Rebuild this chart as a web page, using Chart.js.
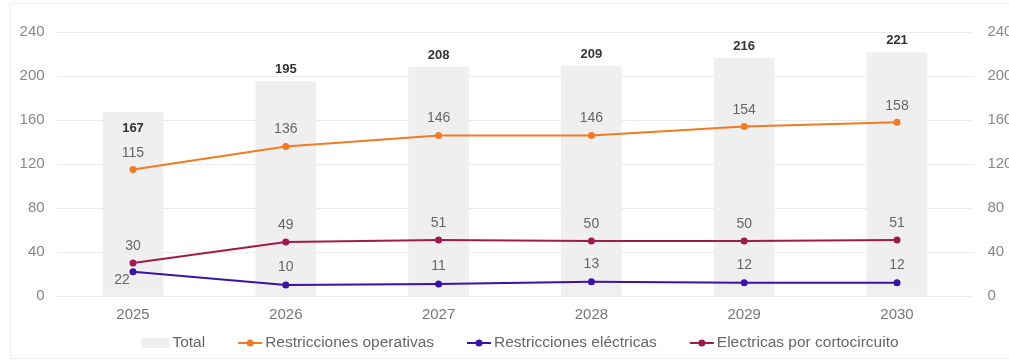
<!DOCTYPE html>
<html>
<head>
<meta charset="utf-8">
<script src="https://cdn.jsdelivr.net/npm/chart.js@4/dist/chart.umd.min.js"></script>
<style>
  html, body { margin: 0; padding: 0; background: #fff; overflow: hidden; width: 1009px; height: 362px; }
  #frame { position: absolute; left: 10px; top: 3px; width: 1040px; height: 354px; border: 1px solid #eeeeee; }
  #c { position: absolute; left: 0; top: 0; }
</style>
</head>
<body>
<div id="frame"></div>
<canvas id="c" width="1022" height="362"></canvas>
<script>
const categories = ['2025', '2026', '2027', '2028', '2029', '2030'];
const total = [167, 195, 208, 209, 216, 221];
const restriccionesOperativas = [115, 136, 146, 146, 154, 158];
const restriccionesElectricas = [22, 10, 11, 13, 12, 12];
const electricasCortocircuito = [30, 49, 51, 50, 50, 51];
const yTicks = [0, 40, 80, 120, 160, 200, 240];

const COL_TOTAL = '#efefef';
const COL_OPER = '#f27a22';
const COL_ELEC = '#3c12a6';
const COL_CORTO = '#a11a4c';
const FONT = '"Liberation Sans", Arial, sans-serif';

// label offsets (style only): [dx, dy] per point
const labelOffsets = {
  0: [[0, 16], [0, -12], [0, -12], [0, -12], [0, -12], [0, -12]],
  1: [[0, -16.5], [0, -17], [0, -17], [0, -17], [0, -16], [0, -16]],
  2: [[-11, 8], [0, -18], [0, -18], [0, -18], [0, -18], [0, -18]],
  3: [[0, -17], [0, -17], [0, -17], [0, -17], [0, -17], [0, -17]]
};

const valueLabels = {
  id: 'valueLabels',
  afterDatasetsDraw(chart) {
    const ctx = chart.ctx;
    ctx.save();
    ctx.textAlign = 'center';
    ctx.textBaseline = 'middle';
    chart.data.datasets.forEach((ds, di) => {
      const meta = chart.getDatasetMeta(di);
      meta.data.forEach((el, i) => {
        const off = labelOffsets[di][i];
        if (di === 0) {
          ctx.font = 'bold 13px ' + FONT;
          ctx.fillStyle = '#333333';
        } else {
          ctx.font = '14px ' + FONT;
          ctx.fillStyle = '#666666';
        }
        ctx.fillText(String(ds.data[i]), el.x + off[0], el.y + off[1]);
      });
    });
    ctx.restore();
  }
};

const customLegend = {
  id: 'customLegend',
  afterDraw(chart) {
    const ctx = chart.ctx;
    const ca = chart.chartArea;
    const y = 343;
    ctx.save();
    ctx.font = '15.5px ' + FONT;
    ctx.textBaseline = 'middle';
    ctx.textAlign = 'left';
    const items = chart.data.datasets.map((ds, i) => {
      const mw = i === 0 ? 28 : 24;
      return { ds, i, mw, tw: ctx.measureText(ds.label).width };
    });
    const gapText = 3, gapItem = 33;
    let totalW = 0;
    items.forEach((it, k) => { totalW += it.mw + gapText + it.tw + (k < items.length - 1 ? gapItem : 0); });
    let x = (ca.left + ca.right) / 2 + 5 - totalW / 2;
    items.forEach(it => {
      if (it.i === 0) {
        ctx.fillStyle = COL_TOTAL;
        ctx.fillRect(x, y - 5, 28, 10);
      } else {
        const c = it.ds.borderColor;
        ctx.strokeStyle = c; ctx.lineWidth = 2;
        ctx.beginPath(); ctx.moveTo(x, y); ctx.lineTo(x + 24, y); ctx.stroke();
        ctx.fillStyle = c;
        ctx.beginPath(); ctx.arc(x + 12, y, 3.5, 0, Math.PI * 2); ctx.fill();
      }
      x += it.mw + gapText;
      ctx.fillStyle = '#666666';
      ctx.fillText(it.ds.label, x, y);
      x += it.tw + gapItem;
    });
    ctx.restore();
  }
};

new Chart(document.getElementById('c'), {
  data: {
    labels: categories,
    datasets: [
      { type: 'bar', label: 'Total', data: total, backgroundColor: COL_TOTAL, barThickness: 60, order: 5, yAxisID: 'y' },
      { type: 'line', label: 'Restricciones operativas', data: restriccionesOperativas, borderColor: COL_OPER, backgroundColor: COL_OPER, borderWidth: 2, pointRadius: 3.5, pointBorderWidth: 0, pointBackgroundColor: COL_OPER, order: 1, yAxisID: 'y' },
      { type: 'line', label: 'Restricciones eléctricas', data: restriccionesElectricas, borderColor: COL_ELEC, backgroundColor: COL_ELEC, borderWidth: 2, pointRadius: 3.5, pointBorderWidth: 0, pointBackgroundColor: COL_ELEC, order: 2, yAxisID: 'y' },
      { type: 'line', label: 'Electricas por cortocircuito', data: electricasCortocircuito, borderColor: COL_CORTO, backgroundColor: COL_CORTO, borderWidth: 2, pointRadius: 3.5, pointBorderWidth: 0, pointBackgroundColor: COL_CORTO, order: 3, yAxisID: 'y' }
    ]
  },
  options: {
    responsive: false,
    animation: false,
    layout: { padding: { left: 19.6, right: 8.6, top: 32, bottom: 39 } },
    scales: {
      x: {
        afterFit(axis) { axis.height = 27; },
        clip: false,
        grid: { display: false, drawTicks: false },
        border: { display: false },
        ticks: { color: '#777', font: { size: 15, family: FONT }, padding: 10 }
      },
      y: {
        position: 'left',
        min: 0, max: 240,
        afterBuildTicks(axis) { axis.ticks = yTicks.map(v => ({ value: v })); },
        afterFit(axis) { axis.width = 37; },
        grid: { color: '#ebebeb', drawTicks: false },
        border: { display: false },
        ticks: { color: '#888', font: { size: 15, family: FONT }, padding: 12 }
      },
      y2: {
        position: 'right',
        min: 0, max: 240,
        afterBuildTicks(axis) { axis.ticks = yTicks.map(v => ({ value: v })); },
        afterFit(axis) { axis.width = 40; },
        grid: { display: false, drawTicks: false },
        border: { display: false },
        ticks: { color: '#888', font: { size: 15, family: FONT }, padding: 14 }
      }
    },
    plugins: {
      tooltip: { enabled: false },
      legend: { display: false }
    }
  },
  plugins: [valueLabels, customLegend]
});
</script>
</body>
</html>
